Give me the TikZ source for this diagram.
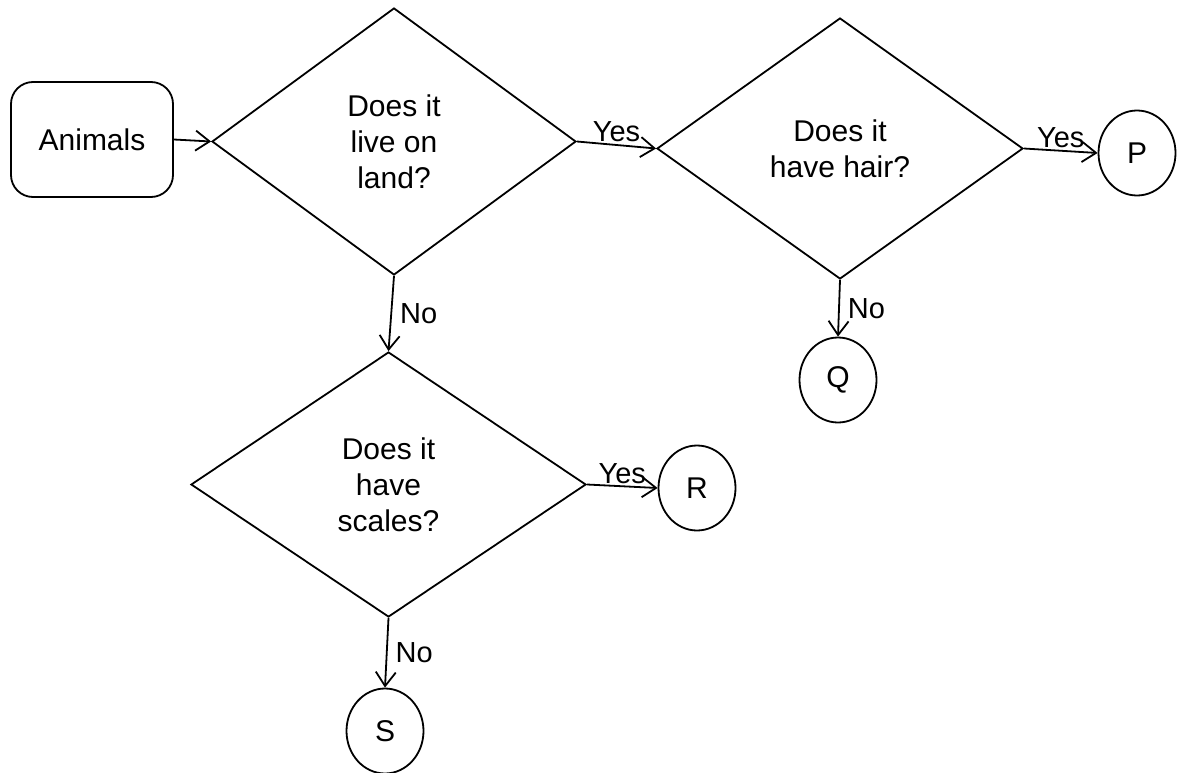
\documentclass[tikz,border=0pt]{standalone}
\usepackage{fontspec}
\setmainfont{Liberation Sans}
\usetikzlibrary{shapes.geometric,arrows.meta}

\tikzset{every picture/.style={line width=1.8pt}}
\tikzset{
  txt/.style={font=\fontsize{30}{36}\selectfont, align=center},
  startbox/.style={txt, draw, rounded corners=22pt, minimum width=162pt, minimum height=115pt, inner sep=0pt},
  question/.style={txt, draw, diamond, inner sep=0pt},
  leaf/.style={txt, draw, ellipse, minimum width=77pt, minimum height=85pt, inner sep=0pt},
  flow/.style={-{Straight Barb[length=14pt,width=20pt,line width=1.8pt]}},
  lbl/.style={font=\fontsize{29}{34}\selectfont, inner sep=2pt}
}

\begin{document}
\begin{tikzpicture}[x=1pt,y=1pt,yscale=-1]
		\path[use as bounding box] (0,0) rectangle (1177,773); %page size of the scan

		% start and questions
		\node[startbox] (animals) at (92,139.5) {Animals};
		\node[question, minimum width=364pt, minimum height=267pt] (land) at (394,141.5) {Does it\\live on\\land?};
		\node[question, minimum width=366pt, minimum height=261pt] (hair) at (840,148.5) {Does it\\have hair?};
		\node[question, minimum width=395pt, minimum height=265pt] (scales) at (388.5,484.5) {Does it\\have\\scales?};

		% answers
		\node[leaf] (p) at (1137,153) {P};
		\node[leaf] (q) at (838,380) {Q};
		\node[leaf] (r) at (697,488) {R};
		\node[leaf] (s) at (385,731) {S};

		\draw[flow] (animals.east) -- (land.west);
		\draw[flow] (land.east) -- node[lbl, above] {Yes} (hair.west);
		\draw[flow] (hair.east) -- node[lbl, above] {Yes} (p.west);
		\draw[flow] (land.south) -- node[lbl, right=6pt] {No} (scales.north);
		\draw[flow] (hair.south) -- node[lbl, right=6pt] {No} (q.north);
		\draw[flow] (scales.east) -- node[lbl, above] {Yes} (r.west);
		\draw[flow] (scales.south) -- node[lbl, right=6pt] {No} (s.north);
		\end{tikzpicture}
\end{document}
